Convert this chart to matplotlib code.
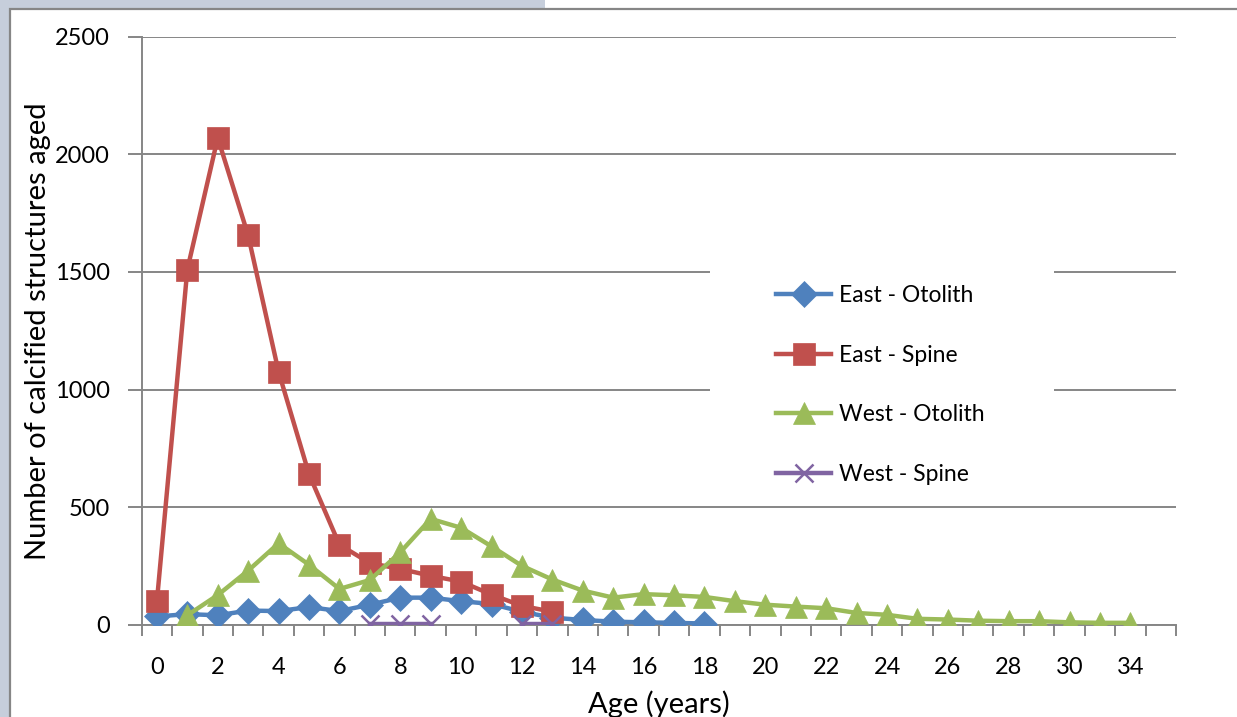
import numpy as np
import matplotlib
matplotlib.use("Agg")
import matplotlib.pyplot as plt
from matplotlib.patches import Rectangle

# Age classes on the category axis (the 32/33 classes are not present)
ages = list(range(32)) + [34]

nan = np.nan
east_otolith = [35, 45, 40, 60, 58, 75, 58, 85, 115, 115, 100, 88, 55, 30,
                20, 13, 10, 8, 5]
east_spine = [100, 1510, 2070, 1655, 1075, 640, 340, 262, 237, 208, 183, 128,
              80, 55]
west_otolith = [nan, 40, 126, 230, 346, 255, 152, 190, 308, 450, 412, 333, 250,
                192, 145, 115, 130, 125, 118, 100, 85, 77, 70, 50, 42, 25, 22,
                17, 15, 15, 10, 8, 8]
west_spine = [nan, nan, nan, nan, nan, nan, nan, 5, 5, 5, nan, nan, 5, 5]

series = [
    ("East - Otolith", east_otolith, "#4F81BD", "D", 13),
    ("East - Spine", east_spine, "#C0504D", "s", 15.5),
    ("West - Otolith", west_otolith, "#9BBB59", "^", 16),
    ("West - Spine", west_spine, "#8064A2", "x", 13),
]

W, H = 1237, 717
plt.rcParams["font.family"] = ["Lato", "DejaVu Sans"]

fig = plt.figure(figsize=(W / 100, H / 100), dpi=100)
fig.patch.set_facecolor("#c6cedb")

# white chart area with grey border, running off the right/bottom edges
fig.add_artist(Rectangle((545 / W, 1 - 9 / H), 1, 1, transform=fig.transFigure,
                         facecolor="white", edgecolor="none", zorder=-2))
fig.add_artist(Rectangle((10 / W, -0.1), 1.2, 1 - 9 / H + 0.1,
                         transform=fig.transFigure, facecolor="white",
                         edgecolor="#868686", linewidth=1.6, zorder=-1))

ax = fig.add_axes([141.7 / W, 1 - 624.7 / H, (1176 - 141.7) / W,
                   (624.7 - 36.7) / H])
ax.set_zorder(1)
ax.set_facecolor("none")
ax.set_axisbelow(True)

x = np.arange(len(ages))
for name, vals, color, marker, ms in series:
    xs = x[:len(vals)]
    ax.plot(xs, vals, color=color, linewidth=3.2, marker=marker, markersize=ms,
            markeredgewidth=1.8 if marker == "x" else 0.5,
            markeredgecolor=color, markerfacecolor=color, label=name,
            zorder=3)

ax.set_xlim(-0.5, len(ages) + 0.5)
ax.set_ylim(0, 2500)
ax.set_yticks(np.arange(0, 2501, 500))
ax.yaxis.grid(True, color="#868686", linewidth=1.4)

ax.set_xticks(x[::2])
ax.set_xticklabels([str(a) for a in ages[::2]])
ax.set_xticks(np.arange(-0.5, len(ages) + 1, 1), minor=True)
ax.tick_params(axis="x", which="major", length=0, pad=23, labelsize=17)
ax.tick_params(axis="x", which="minor", length=8, width=1.4, color="#868686",
               direction="out")
ax.tick_params(axis="y", length=10, width=1.4, color="#868686", pad=13,
               labelsize=17)

for side in ("top", "right"):
    ax.spines[side].set_visible(False)
for side in ("left", "bottom"):
    ax.spines[side].set_color("#868686")
    ax.spines[side].set_linewidth(1.4)

ax.set_xlabel("Age (years)", fontsize=21, labelpad=9)
ax.set_ylabel("Number of calcified structures aged", fontsize=21, labelpad=3)

# legend sits on a white panel that hides the gridlines behind it
ax.add_patch(Rectangle((710 / W, 1 - 495 / H), (1054 - 710) / W,
                       (495 - 258) / H, transform=fig.transFigure,
                       facecolor="white", edgecolor="none", zorder=1))
ax.legend(loc="upper left", bbox_to_anchor=(776 / W, 1 - 285 / H),
          bbox_transform=fig.transFigure, frameon=False, fontsize=16.5,
          handlelength=2.4, handletextpad=0.35, labelspacing=1.69,
          borderpad=0, borderaxespad=0)

fig.savefig("out.png", dpi=100, facecolor=fig.get_facecolor())
